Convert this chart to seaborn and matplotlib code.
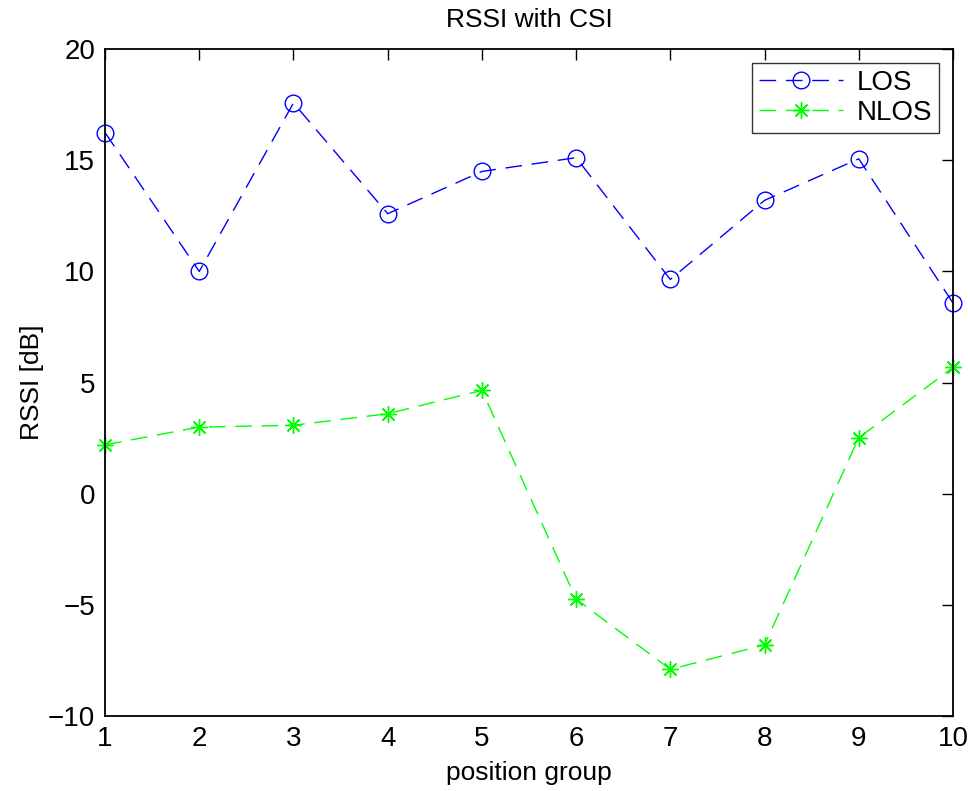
import matplotlib
matplotlib.use("Agg")
import matplotlib.pyplot as plt
import seaborn as sns
import pandas as pd

positions = [1, 2, 3, 4, 5, 6, 7, 8, 9, 10]
los = [16.25, 10.0, 17.58, 12.6, 14.5, 15.12, 9.64, 13.2, 15.07, 8.58]
nlos = [2.2, 3.0, 3.08, 3.6, 4.65, -4.74, -7.9, -6.8, 2.52, 5.68]
series_names = ["LOS", "NLOS"]
xticks = [1, 2, 3, 4, 5, 6, 7, 8, 9, 10]
yticks = [-10, -5, 0, 5, 10, 15, 20]

sns.set_style("white")
plt.rcParams['font.family'] = ['Liberation Sans', 'DejaVu Sans']
plt.rcParams['text.color'] = 'black'
plt.rcParams['axes.labelcolor'] = 'black'
plt.rcParams['xtick.color'] = 'black'
plt.rcParams['ytick.color'] = 'black'

df = pd.DataFrame({
    "position": positions * 2,
    "rssi": los + nlos,
    "series": [series_names[0]] * len(los) + [series_names[1]] * len(nlos),
})

fig = plt.figure(figsize=(9.68, 7.91), dpi=100)
ax = fig.add_axes([0.1085, 0.0948, 0.876, 0.843])

colors = {"LOS": (0, 0, 1), "NLOS": (0, 1, 0)}
markers = {"LOS": "o", "NLOS": (8, 2, 0)}
for name in series_names:
    sub = df[df["series"] == name]
    sns.lineplot(data=sub, x="position", y="rssi", ax=ax, color=colors[name],
                 linestyle=(0, (12, 7)), linewidth=1.0,
                 marker=markers[name],
                 markersize=12,
                 markerfacecolor="none", markeredgecolor=colors[name],
                 markeredgewidth=1.0, label=name, clip_on=False, zorder=3)

ax.set_xlim(1, 10)
ax.set_ylim(-10, 20)
ax.set_xticks(xticks)
ax.set_yticks(yticks)
ax.set_yticklabels(["\u221210", "\u22125", "0", "5", "10", "15", "20"])
ax.tick_params(direction="in", length=8, width=1.0, top=True, right=True,
               labelsize=20, pad=7)
for s in ax.spines.values():
    s.set_linewidth(1.3)
    s.set_color("black")
    s.set_zorder(4)

ax.set_xlabel("position group", fontsize=19, labelpad=7)
ax.set_ylabel("RSSI [dB]", fontsize=19, labelpad=3)
ax.set_title("RSSI with CSI", fontsize=19, pad=16)

leg = ax.legend(loc="upper right", fontsize=20, frameon=True, fancybox=False,
                edgecolor="black", borderaxespad=0.5, handlelength=3.0,
                borderpad=0.25, labelspacing=0.15, handletextpad=0.5)
leg.get_frame().set_linewidth(1.0)

fig.savefig("out.png", dpi=100, facecolor="white")
